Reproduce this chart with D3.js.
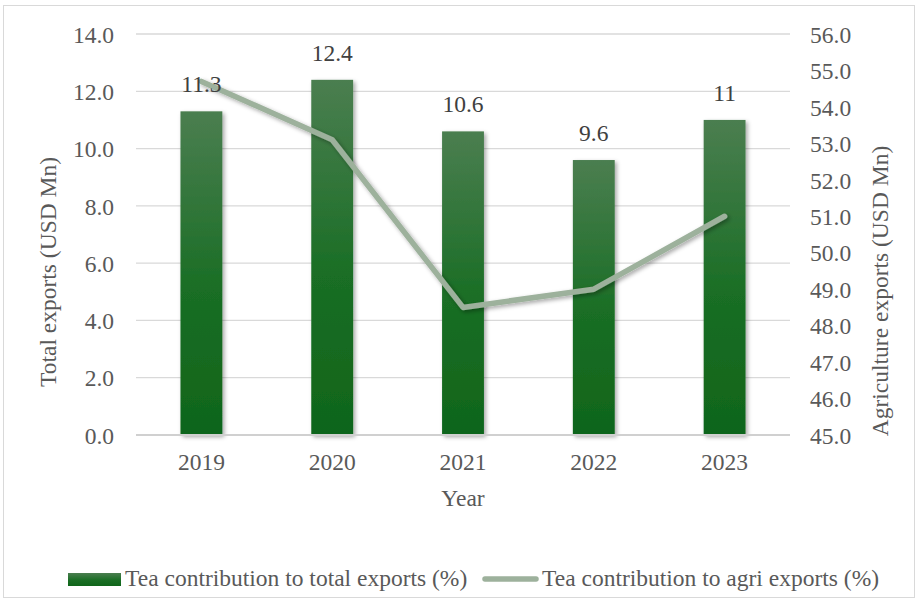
<!DOCTYPE html>
<html>
<head>
<meta charset="utf-8">
<script src="https://cdn.jsdelivr.net/npm/d3@7"></script>
<style>
  body { margin: 0; background: #fff; }
  svg text { font-family: "Liberation Serif", "Times New Roman", serif; fill: #595959; }
</style>
</head>
<body>
<svg id="chart" width="918" height="602"></svg>
<script>
// values
const years = ["2019", "2020", "2021", "2022", "2023"];
const totalShare = [11.3, 12.4, 10.6, 9.6, 11];        // bars, left axis
const agriShare = [54.7, 53.1, 48.5, 49.0, 51.0];      // line, right axis
const leftTicks = [0, 2, 4, 6, 8, 10, 12, 14];
const rightTicks = [45, 46, 47, 48, 49, 50, 51, 52, 53, 54, 55, 56];

const W = 918, H = 602;
const m = { left: 136, right: 128, top: 34, bottom: 167 };
const pw = W - m.left - m.right, ph = H - m.top - m.bottom;
const fs = 23.5;

const svg = d3.select("#chart");
const defs = svg.append("defs");

const grad = defs.append("linearGradient").attr("id", "barGrad")
  .attr("x1", 0).attr("y1", 0).attr("x2", 0).attr("y2", 1);
grad.append("stop").attr("offset", "0%").attr("stop-color", "#4b7e50");
grad.append("stop").attr("offset", "55%").attr("stop-color", "#1a6e25");
grad.append("stop").attr("offset", "100%").attr("stop-color", "#0f651a");

const shadow = defs.append("filter").attr("id", "shadow")
  .attr("x", "-20%").attr("y", "-20%").attr("width", "140%").attr("height", "140%");
shadow.append("feDropShadow").attr("dx", 2).attr("dy", 2)
  .attr("stdDeviation", 2).attr("flood-color", "#000").attr("flood-opacity", 0.35);

// chart border
svg.append("rect").attr("x", 3.5).attr("y", 5.5).attr("width", 911).attr("height", 592)
  .attr("fill", "#fff").attr("stroke", "#d9d9d9").attr("stroke-width", 1);

const x = d3.scaleBand().domain(years).range([m.left, m.left + pw]).paddingInner(0.68).paddingOuter(0.34);
const yL = d3.scaleLinear().domain([0, 14]).range([m.top + ph, m.top]);
const yR = d3.scaleLinear().domain([45, 56]).range([m.top + ph, m.top]);

// gridlines
svg.append("g").selectAll("line").data(leftTicks.filter(d => d > 0)).join("line")
  .attr("x1", m.left).attr("x2", m.left + pw)
  .attr("y1", d => yL(d)).attr("y2", d => yL(d))
  .attr("stroke", "#d9d9d9").attr("stroke-width", 1.3);

// left axis
const axL = svg.append("g").attr("transform", `translate(${m.left},0)`)
  .call(d3.axisLeft(yL).tickValues(leftTicks).tickFormat(d3.format(".1f")).tickSize(0).tickPadding(22));
axL.select(".domain").remove();
axL.selectAll("text").attr("font-size", fs).attr("dy", "0.35em");

// right axis
const axR = svg.append("g").attr("transform", `translate(${m.left + pw},0)`)
  .call(d3.axisRight(yR).tickValues(rightTicks).tickFormat(d3.format(".1f")).tickSize(0).tickPadding(20));
axR.select(".domain").remove();
axR.selectAll("text").attr("font-size", fs).attr("dy", "0.35em");

// bars
svg.append("g").selectAll("rect").data(years).join("rect")
  .attr("x", d => x(d)).attr("width", x.bandwidth())
  .attr("y", (d, i) => yL(totalShare[i]))
  .attr("height", (d, i) => yL(0) - yL(totalShare[i]))
  .attr("fill", "url(#barGrad)").attr("filter", "url(#shadow)");

// baseline
svg.append("line").attr("x1", m.left).attr("x2", m.left + pw)
  .attr("y1", yL(0)).attr("y2", yL(0)).attr("stroke", "#d0d0d0").attr("stroke-width", 2);

// x axis labels
const axB = svg.append("g").attr("transform", `translate(0,${yL(0)})`)
  .call(d3.axisBottom(x).tickSize(0).tickPadding(18));
axB.select(".domain").remove();
axB.selectAll("text").attr("font-size", fs);

// line
const line = d3.line().x((d, i) => x(years[i]) + x.bandwidth() / 2).y(d => yR(d));
svg.append("path").datum(agriShare).attr("d", line)
  .attr("fill", "none").attr("stroke", "#9db19c").attr("stroke-width", 5.5)
  .attr("stroke-linejoin", "round").attr("stroke-linecap", "round")
  .attr("filter", "url(#shadow)");

// data labels on bars
svg.append("g").selectAll("text").data(years).join("text")
  .attr("x", d => x(d) + x.bandwidth() / 2)
  .attr("y", (d, i) => yL(totalShare[i]) - 19)
  .attr("text-anchor", "middle").attr("font-size", fs).style("fill", "#404040")
  .text((d, i) => totalShare[i]);

// axis titles
svg.append("text").attr("transform", "translate(56,272) rotate(-90)")
  .attr("text-anchor", "middle").attr("font-size", fs).text("Total exports (USD Mn)");
svg.append("text").attr("transform", "translate(888,291) rotate(-90)")
  .attr("text-anchor", "middle").attr("font-size", fs).text("Agriculture exports (USD Mn)");
svg.append("text").attr("x", m.left + pw / 2).attr("y", 506)
  .attr("text-anchor", "middle").attr("font-size", fs).text("Year");

// legend
const lg = svg.append("g");
lg.append("rect").attr("x", 68).attr("y", 573).attr("width", 53).attr("height", 13)
  .attr("fill", "url(#barGrad)");
lg.append("text").attr("x", 125).attr("y", 586).attr("font-size", fs)
  .text("Tea contribution to total exports (%)");
lg.append("line").attr("x1", 485).attr("x2", 536).attr("y1", 579).attr("y2", 579)
  .attr("stroke", "#9db19c").attr("stroke-width", 5.5).attr("stroke-linecap", "round");
lg.append("text").attr("x", 542).attr("y", 586).attr("font-size", fs)
  .text("Tea contribution to agri exports (%)");
</script>
</body>
</html>
